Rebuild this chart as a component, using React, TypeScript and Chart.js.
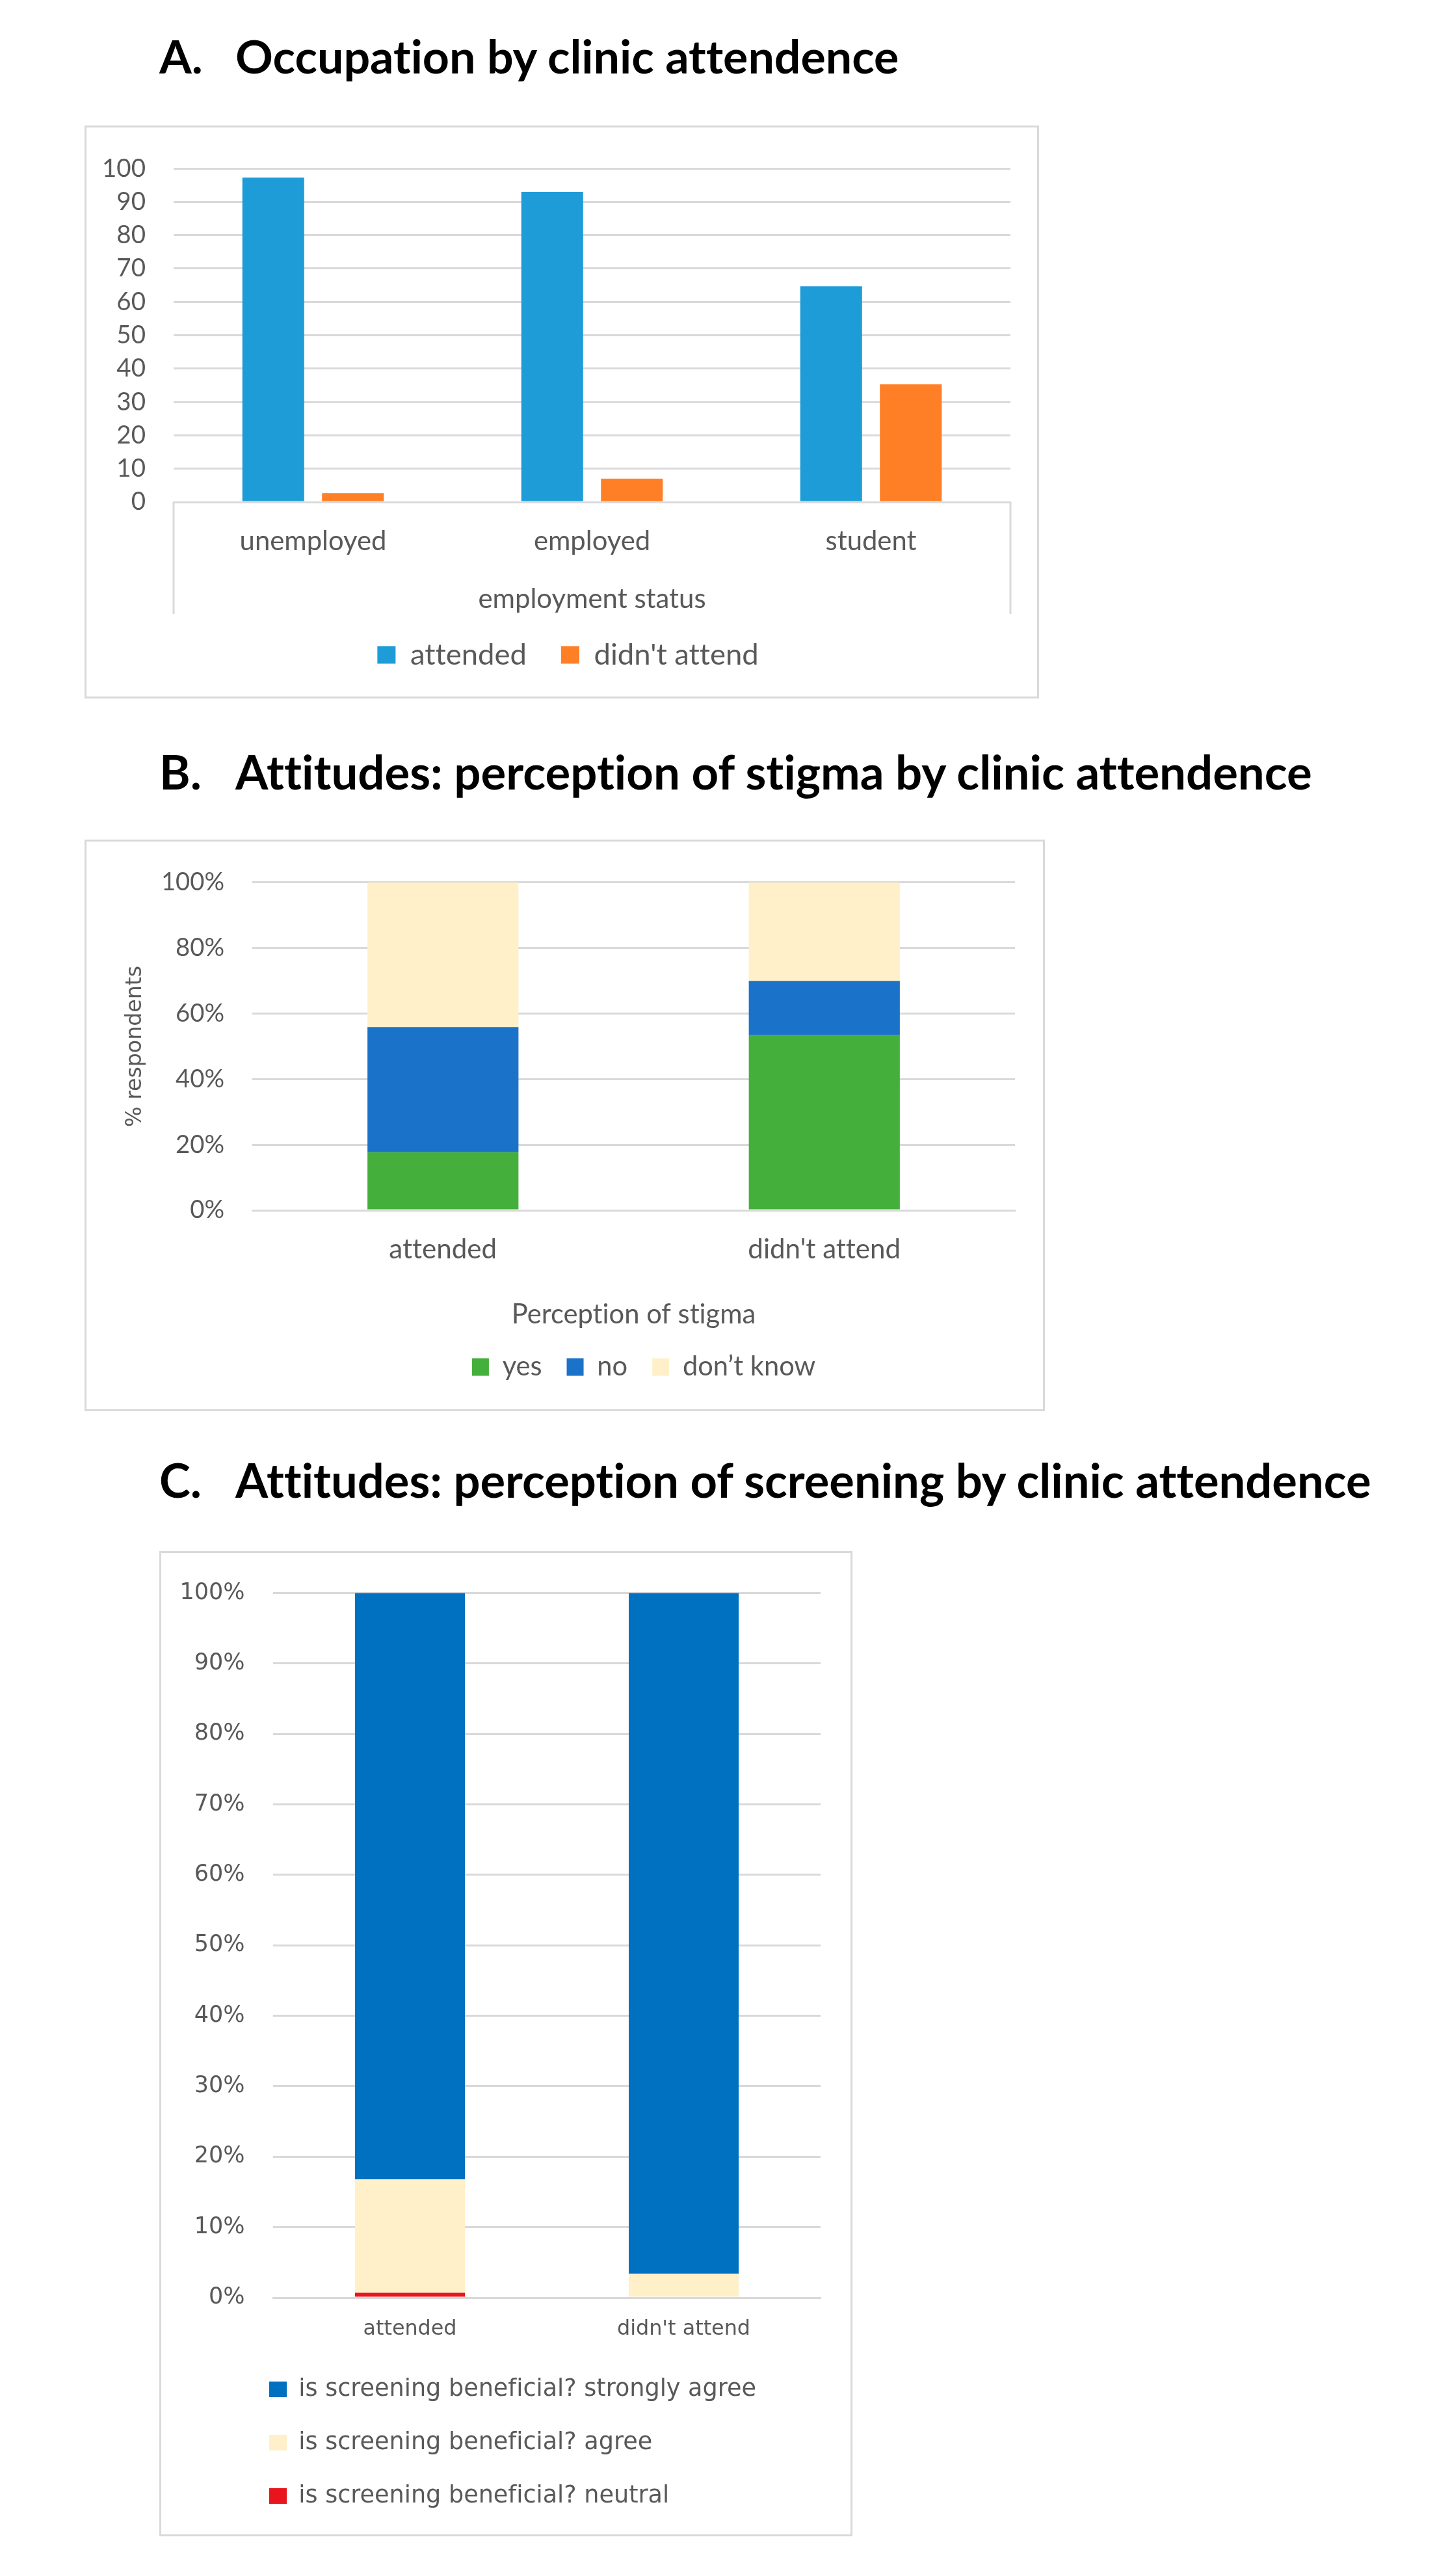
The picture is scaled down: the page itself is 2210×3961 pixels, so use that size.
import React, { useEffect, useMemo, useRef } from 'react';
import { Chart, registerables } from 'chart.js';

Chart.register(...registerables);

// ---------------- data ----------------
const occupationCategories = ['unemployed', 'employed', 'student'];
const occupationSeries = ['attended', "didn't attend"];
const occupationAttended = [97.3, 93.0, 64.7];
const occupationDidntAttend = [2.7, 7.0, 35.3];
const occupationAxisTitle = 'employment status';

const stigmaCategories = ['attended', "didn't attend"];
const stigmaSeries = ['yes', 'no', 'don\u2019t know'];
const stigmaYes = [17.7, 53.4];
const stigmaNo = [38.2, 16.6];
const stigmaDontKnow = [44.1, 30.0];
const stigmaAxisTitle = 'Perception of stigma';
const stigmaYTitle = '% respondents';

const screeningCategories = ['attended', "didn't attend"];
const screeningSeries = [
  'is screening beneficial? neutral',
  'is screening beneficial? agree',
  'is screening beneficial? strongly agree',
];
const screeningNeutral = [0.7, 0];
const screeningAgree = [16.1, 3.4];
const screeningStronglyAgree = [83.2, 96.6];

const titleLabels = ['A.', 'B.', 'C.'];
const titleTexts = [
  'Occupation by clinic attendence',
  'Attitudes: perception of stigma by clinic attendence',
  'Attitudes: perception of screening by clinic attendence',
];

// ---------------- styling helpers ----------------
const GRID = '#d9d9d9';
const TEXT = '#595959';
const CAL = 'Lato';
const VER = "'DejaVu Sans'";

function fitSize(text: string, target: number, family: string, weight = 'normal'): number {
  const ctx = document.createElement('canvas').getContext('2d')! as any;
  ctx.textRendering = 'optimizeSpeed';
  ctx.font = `${weight} 100px ${family}`;
  const w = ctx.measureText(text).width;
  return Math.round((100 * target) / w * 10) / 10;
}

const framePlugin = {
  id: 'frame',
  beforeDraw(chart: any) {
    const { ctx, width, height } = chart;
    (ctx as any).textRendering = 'optimizeSpeed';
    ctx.save();
    ctx.fillStyle = '#ffffff';
    ctx.fillRect(0, 0, width, height);
    ctx.strokeStyle = GRID;
    ctx.lineWidth = 3;
    ctx.strokeRect(1.5, 1.5, width - 3, height - 3);
    ctx.restore();
  },
};

const categoryBoxPlugin = (depth: number) => ({
  id: 'catbox',
  afterDraw(chart: any) {
    const { ctx, chartArea } = chart;
    ctx.save();
    ctx.strokeStyle = GRID;
    ctx.lineWidth = 3;
    [chartArea.left, chartArea.right].forEach((x: number) => {
      ctx.beginPath();
      ctx.moveTo(x, chartArea.bottom);
      ctx.lineTo(x, chartArea.bottom + depth);
      ctx.stroke();
    });
    ctx.restore();
  },
});

// moves the legend box horizontally after layout (legend placement only)
const legendShift = (dx: number) => ({
  id: 'legendShift',
  afterLayout(chart: any) {
    const lg = chart.legend;
    if (lg) {
      lg.left += dx;
      lg.right += dx;
    }
  },
});

// ---------------- chart A ----------------
function makeA(canvas: HTMLCanvasElement) {
  const W = 1468, H = 881;
  const plotL = 137, plotR = 1424, plotT = 47, plotB = 579;
  const yS = fitSize('100', 67, CAL);
  const xS = fitSize('unemployed', 226, CAL);
  const tS = fitSize('employment status', 350, CAL);
  const lS = fitSize("didn't attend", 253, CAL);
  const legPad = 53;
  const legCY = 814;
  const legCX = 742;
  const padB = H - legCY - lS / 2 - 10;
  const legTop = legCY - legPad - lS / 2;
  const xAxisH = legTop - plotB;
  const tickCY = 640, titleCY = 728;
  return new Chart(canvas, {
    type: 'bar',
    data: {
      labels: occupationCategories,
      datasets: [
        { label: occupationSeries[0], data: occupationAttended, backgroundColor: '#1E9CD8', categoryPercentage: 0.571, barPercentage: 0.776 },
        { label: occupationSeries[1], data: occupationDidntAttend, backgroundColor: '#FF7F27', categoryPercentage: 0.571, barPercentage: 0.776 },
      ],
    },
    options: {
      responsive: false,
      animation: false,
      devicePixelRatio: 1,
      layout: { padding: { left: 0, right: W - plotR, top: plotT, bottom: padB } },
      plugins: {
        legend: {
          position: 'bottom',
          labels: { boxWidth: 28, boxHeight: 27, padding: legPad, color: TEXT, font: { family: CAL, size: lS } },
        },
        tooltip: { enabled: false },
      },
      scales: {
        x: {
          grid: { display: false, drawTicks: false },
          border: { display: true, color: GRID, width: 3 },
          ticks: { color: TEXT, font: { family: CAL, size: xS }, padding: tickCY - plotB - 0.6 * xS },
          title: {
            display: true,
            text: occupationAxisTitle,
            color: TEXT,
            font: { family: CAL, size: tS },
            padding: { top: 0, bottom: legTop - titleCY - 0.6 * tS },
          },
          afterFit: (s: any) => { s.height = xAxisH; },
        },
        y: {
          min: 0,
          max: 100,
          ticks: { stepSize: 10, color: TEXT, font: { family: CAL, size: yS }, padding: 43 },
          grid: { color: GRID, lineWidth: 3, drawTicks: false },
          border: { display: false },
          afterFit: (s: any) => { s.width = plotL; },
        },
      },
    } as any,
    plugins: [framePlugin, categoryBoxPlugin(172), legendShift(legCX - plotR / 2)],
  });
}

// ---------------- chart B ----------------
function makeB(canvas: HTMLCanvasElement) {
  const W = 1477, H = 879;
  const plotL = 258, plotR = 1431, plotT = 50, plotB = 570;
  const yS = fitSize('100%', 97, CAL);
  const ytS = fitSize(stigmaYTitle, 248, VER);
  const xS = fitSize("didn't attend", 235, CAL);
  const tS = fitSize(stigmaAxisTitle, 376, CAL);
  const lS = fitSize('don\u2019t know', 204, CAL);
  const legPad = 38;
  const legCY = 811;
  const legCX = 860;
  const padB = H - legCY - lS / 2 - 10;
  const legTop = legCY - legPad - lS / 2;
  const xAxisH = legTop - plotB;
  const tickCY = 630, titleCY = 731;
  const yTitleCX = 78;
  return new Chart(canvas, {
    type: 'bar',
    data: {
      labels: stigmaCategories,
      datasets: [
        { label: stigmaSeries[0], data: stigmaYes, backgroundColor: '#45AF3C' },
        { label: stigmaSeries[1], data: stigmaNo, backgroundColor: '#1A73C8' },
        { label: stigmaSeries[2], data: stigmaDontKnow, backgroundColor: '#FFF0CA' },
      ],
    },
    options: {
      responsive: false,
      animation: false,
      devicePixelRatio: 1,
      datasets: { bar: { categoryPercentage: 0.396, barPercentage: 1 } },
      layout: { padding: { left: 0, right: W - plotR, top: plotT, bottom: padB } },
      plugins: {
        legend: {
          position: 'bottom',
          fullSize: false,
          labels: { boxWidth: 26, boxHeight: 27, padding: legPad, color: TEXT, font: { family: CAL, size: lS } },
        },
        tooltip: { enabled: false },
      },
      scales: {
        x: {
          stacked: true,
          grid: { display: false, drawTicks: false },
          border: { display: true, color: GRID, width: 3 },
          ticks: { color: TEXT, font: { family: CAL, size: xS }, padding: tickCY - plotB - 0.6 * xS },
          title: {
            display: true,
            text: stigmaAxisTitle,
            color: TEXT,
            font: { family: CAL, size: tS },
            padding: { top: 0, bottom: legTop - titleCY - 0.6 * tS },
          },
          afterFit: (s: any) => { s.height = xAxisH; },
        },
        y: {
          stacked: true,
          min: 0,
          max: 100,
          ticks: { stepSize: 20, color: TEXT, font: { family: CAL, size: yS }, padding: 43, callback: (v: any) => v + '%' },
          grid: { color: GRID, lineWidth: 3, drawTicks: false },
          border: { display: false },
          title: {
            display: true,
            text: stigmaYTitle,
            color: TEXT,
            font: { family: VER, size: ytS },
            padding: { top: yTitleCX - 0.6 * ytS, bottom: 0 },
          },
          afterFit: (s: any) => { s.width = plotL; },
        },
      },
    } as any,
    plugins: [framePlugin, legendShift(legCX - (plotL + plotR) / 2)],
  });
}

// ---------------- chart C ----------------
function makeC(canvas: HTMLCanvasElement) {
  const W = 1066, H = 1515;
  const plotL = 175, plotR = 1017, plotT = 49, plotB = 1148;
  const yS = fitSize('100%', 100, VER);
  const xS = fitSize("didn't attend", 205, VER);
  const lS = fitSize(screeningSeries[2], 704, VER);
  const rowStep = 82;
  const legPad = rowStep - lS;
  const firstRowCY = 1289;
  const lastRowCY = firstRowCY + 2 * rowStep;
  const padB = H - lastRowCY - lS / 2 - 10;
  const legTop = firstRowCY - legPad - lS / 2;
  const xAxisH = legTop - plotB;
  const boxX = 169;
  const tickCY = 1197;
  return new Chart(canvas, {
    type: 'bar',
    data: {
      labels: screeningCategories,
      datasets: [
        { label: screeningSeries[0], data: screeningNeutral, backgroundColor: '#E8161C' },
        { label: screeningSeries[1], data: screeningAgree, backgroundColor: '#FFF0CA' },
        { label: screeningSeries[2], data: screeningStronglyAgree, backgroundColor: '#0070C0' },
      ],
    },
    options: {
      responsive: false,
      animation: false,
      devicePixelRatio: 1,
      datasets: { bar: { categoryPercentage: 0.4015, barPercentage: 1 } },
      layout: { padding: { left: 0, right: W - plotR, top: plotT, bottom: padB } },
      plugins: {
        legend: {
          position: 'bottom',
          align: 'start',
          reverse: true,
          labels: { boxWidth: 27, boxHeight: 24, padding: legPad, color: TEXT, font: { family: VER, size: lS } },
        },
        tooltip: { enabled: false },
      },
      scales: {
        x: {
          stacked: true,
          grid: { display: false, drawTicks: false },
          border: { display: true, color: GRID, width: 3 },
          ticks: { color: TEXT, font: { family: VER, size: xS }, padding: tickCY - plotB - 0.6 * xS },
          afterFit: (s: any) => { s.height = xAxisH; },
        },
        y: {
          stacked: true,
          min: 0,
          max: 100,
          ticks: { stepSize: 10, color: TEXT, font: { family: VER, size: yS }, padding: 43.5, callback: (v: any) => v + '%' },
          grid: { color: GRID, lineWidth: 3, drawTicks: false },
          border: { display: false },
          afterFit: (s: any) => { s.width = plotL; },
        },
      },
    } as any,
    plugins: [framePlugin, legendShift(boxX - legPad)],
  });
}

// ---------------- layout ----------------
const titleCapY = [88, 1188, 2277];
const titleTargetW = [1023, 1660, 1750];
const TITLE_LABEL_X = 245;
const TITLE_TEXT_X = 362;

export default function App() {
  const refA = useRef<HTMLCanvasElement>(null);
  const refB = useRef<HTMLCanvasElement>(null);
  const refC = useRef<HTMLCanvasElement>(null);

  useEffect(() => {
    const charts = [makeA(refA.current!), makeB(refB.current!), makeC(refC.current!)];
    return () => charts.forEach((c) => c.destroy());
  }, []);

  const titleSizes = useMemo(
    () => titleTexts.map((t, i) => fitSize(t, titleTargetW[i], CAL, 'bold')),
    []
  );

  const canvasStyle = (l: number, t: number, w: number, h: number): React.CSSProperties => ({
    position: 'absolute', left: l, top: t, width: w, height: h,
  });

  return (
    <div style={{ position: 'absolute', left: 0, top: 0, width: 2210, height: 3961, background: '#ffffff', overflow: 'hidden' }}>
      {titleTexts.map((t, i) => {
        const size = titleSizes[i];
        const top = titleCapY[i] - 0.529 * size;
        const base: React.CSSProperties = {
          position: 'absolute', top, fontFamily: CAL, fontWeight: 700, fontSize: size,
          lineHeight: 1, whiteSpace: 'nowrap', color: '#000000', fontVariantLigatures: 'none',
        };
        return (
          <React.Fragment key={i}>
            <div style={{ ...base, left: TITLE_LABEL_X }}>{titleLabels[i]}</div>
            <div style={{ ...base, left: TITLE_TEXT_X }}>{t}</div>
          </React.Fragment>
        );
      })}
      <canvas ref={refA} width={1468} height={881} style={canvasStyle(130, 193, 1468, 881)} />
      <canvas ref={refB} width={1477} height={879} style={canvasStyle(130, 1291, 1477, 879)} />
      <canvas ref={refC} width={1066} height={1515} style={canvasStyle(245, 2385, 1066, 1515)} />
    </div>
  );
}
